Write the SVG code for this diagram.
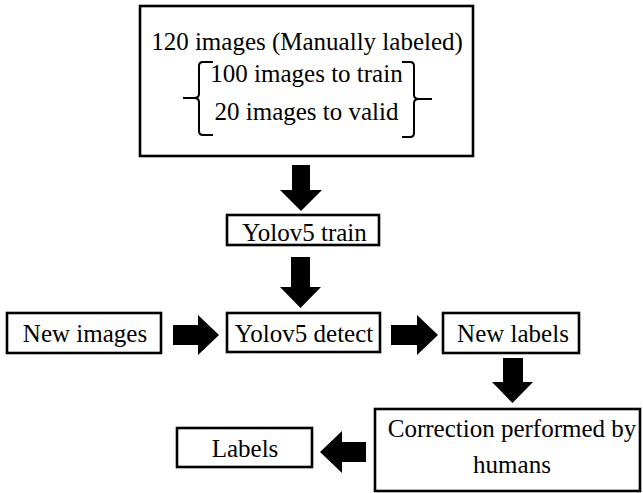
<svg xmlns="http://www.w3.org/2000/svg" width="643" height="493" viewBox="0 0 643 493">
<style>
.box{fill:#fff;stroke:#000;stroke-width:2.6}
.t{font-family:"Liberation Serif","Times New Roman",serif;font-size:25px;fill:#000;text-anchor:middle}
.arr{fill:#000;stroke:none}
.br{fill:none;stroke:#000;stroke-width:2}
</style>
<rect width="643" height="493" fill="#fff"/>
<g id="connectors">
<polygon class="arr" points="292,165 310,165 310,190 322,190 301,211 280,190 292,190"/>
<polygon class="arr" points="291,257 310,257 310,287 321,287 300.5,308 280,287 291,287"/>
<polygon class="arr" points="173,325 198,325 198,315 219,335 198,355 198,345 173,345"/>
<polygon class="arr" points="391,325 417,325 417,315 438,335 417,355 417,345 391,345"/>
<polygon class="arr" points="503,358 523,358 523,382 533,382 512.5,403 492,382 503,382"/>
<polygon class="arr" points="366,442 342,442 342,431 320,452 342,473 342,462 366,462"/>
</g>
<g id="node-dataset">
<rect class="box" x="140" y="6" width="333" height="150" stroke-width="3"/>
<text class="t" x="307" y="50">120 images (Manually labeled)</text>
<text class="t" x="306.5" y="82">100 images to train</text>
<text class="t" x="306.5" y="120">20 images to valid</text>
<path class="br" d="M213,62 L203,62 Q199,62 199,66 L199,94 Q199,98 194,98 L183,98 M194,98 Q199,98 199,102 L199,131 Q199,135 203,135 L213,135"/>
<path class="br" d="M402,62 L410,62 Q414,62 414,66 L414,95 Q414,99 419,99 L432,99 M419,99 Q414,99 414,103 L414,133 Q414,137 410,137 L402,137"/>
</g>
<g id="node-train">
<rect class="box" x="227" y="215" width="152" height="30"/>
<text class="t" x="304.5" y="241">Yolov5 train</text>
</g>
<g id="node-newimages">
<rect class="box" x="7" y="313" width="154" height="40"/>
<text class="t" x="85" y="342">New images</text>
</g>
<g id="node-detect">
<rect class="box" x="227" y="313" width="153" height="39"/>
<text class="t" x="304" y="342">Yolov5 detect</text>
</g>
<g id="node-newlabels">
<rect class="box" x="443" y="313" width="136" height="40"/>
<text class="t" x="513" y="342">New labels</text>
</g>
<g id="node-correction">
<rect class="box" x="375" y="409" width="265" height="82"/>
<text class="t" x="512" y="437">Correction performed by</text>
<text class="t" x="512" y="473">humans</text>
</g>
<g id="node-labels">
<rect class="box" x="177" y="428" width="135" height="39"/>
<text class="t" x="245" y="457">Labels</text>
</g>
</svg>
